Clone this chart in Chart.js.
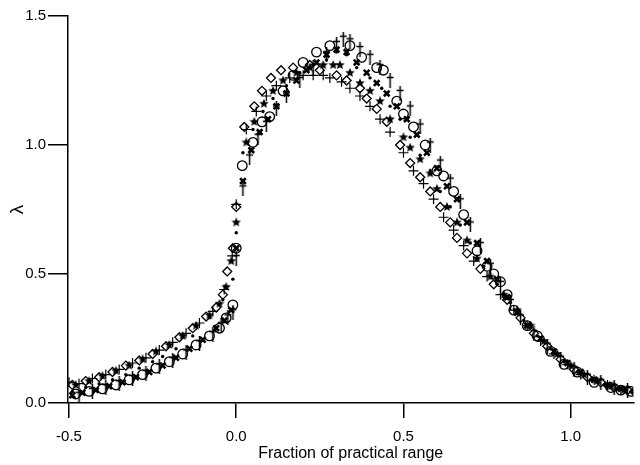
<!DOCTYPE html>
<html>
<head>
<meta charset="utf-8">
<script src="https://cdn.jsdelivr.net/npm/chart.js@4.4.1/dist/chart.umd.min.js"></script>
<style>
  html, body { margin: 0; padding: 0; background: #fff; }
</style>
</head>
<body>
<canvas id="g1" width="640" height="465"></canvas>
<script>
// tick labels
var xTicks = [-0.5, 0.0, 0.5, 1.0];
var yTicks = [0.0, 0.5, 1.0, 1.5];

// diamonds (left curve)
var diamondX = [-0.49,-0.45,-0.41,-0.37,-0.33, -0.29,-0.25,-0.21,-0.17,-0.13, -0.09,-0.06,-0.04,-0.027,-0.01, 0.0,0.024,0.054,0.077,0.104, 0.134,0.17,0.22,0.25,0.30, 0.33,0.37,0.39,0.42,0.45, 0.49,0.52,0.55,0.58,0.61, 0.64,0.66,0.69,0.73,0.77, 0.81,0.85,0.89,0.93,0.97, 1.01,1.05,1.09,1.13,1.17];
var diamondY = [0.07,0.085,0.10,0.12,0.145, 0.165,0.19,0.22,0.255,0.29, 0.335,0.37,0.42,0.51,0.60, 0.76,1.07,1.15,1.21,1.26, 1.29,1.30,1.31,1.29,1.27, 1.25,1.22,1.18,1.14,1.09, 1.00,0.93,0.875,0.82,0.76, 0.70,0.64,0.58,0.52,0.46, 0.40,0.33,0.27,0.22,0.17, 0.13,0.10,0.08,0.06,0.05];

// plus signs (left curve)
var plusX = [-0.50,-0.47,-0.43,-0.39,-0.35, -0.31,-0.27,-0.23,-0.19,-0.15, -0.11,-0.07,-0.036,-0.012,0.0, 0.03,0.06,0.09,0.12,0.16, 0.20,0.23,0.26,0.28,0.315, 0.34,0.37,0.40,0.43,0.46, 0.50,0.53,0.56,0.59,0.62, 0.65,0.68,0.71,0.75,0.79, 0.83,0.87,0.91,0.95,0.99, 1.03,1.07,1.11,1.15,1.19];
var plusY = [0.08,0.075,0.095,0.11,0.13, 0.155,0.175,0.205,0.235,0.27, 0.31,0.355,0.44,0.57,0.77, 1.06,1.13,1.19,1.23,1.26, 1.27,1.27,1.27,1.26,1.245, 1.22,1.19,1.15,1.10,1.05, 0.97,0.90,0.85,0.79,0.72, 0.67,0.61,0.55,0.49,0.42, 0.36,0.30,0.24,0.19,0.15, 0.11,0.09,0.07,0.05,0.04];

// stars (middle)
var starX = [-0.48,-0.44,-0.40,-0.36,-0.32, -0.28,-0.24,-0.20,-0.16,-0.12, -0.08,-0.05,-0.03,-0.015,0.0, 0.03,0.054,0.083,0.11,0.14, 0.18,0.22,0.26,0.29,0.31, 0.34,0.37,0.40,0.43,0.46, 0.50,0.52,0.55,0.58,0.60, 0.63,0.66,0.69,0.72,0.76, 0.80,0.84,0.88,0.92,0.96, 1.00,1.04,1.08,1.12,1.16];
var starY = [0.07,0.085,0.105,0.125,0.145, 0.17,0.20,0.225,0.26,0.30, 0.34,0.385,0.45,0.55,0.70, 1.01,1.09,1.16,1.21,1.25, 1.28,1.30,1.31,1.31,1.31, 1.28,1.24,1.21,1.17,1.10, 1.03,0.99,0.945,0.89,0.83, 0.76,0.70,0.63,0.56,0.49, 0.42,0.36,0.30,0.24,0.19, 0.145,0.11,0.085,0.065,0.05];

// small dots (middle)
var dotX = [-0.49,-0.45,-0.41,-0.37,-0.33, -0.29,-0.25,-0.22,-0.18,-0.13, -0.08,-0.04,-0.01,0.0,0.02, 0.05,0.08,0.11,0.15,0.19, 0.23,0.27,0.30,0.33,0.36, 0.40,0.435,0.46,0.49,0.52, 0.55,0.58,0.61,0.64,0.67, 0.70,0.74,0.78,0.82,0.86, 0.90,0.94,0.98,1.02,1.06, 1.10,1.14,1.18];
var dotY = [0.045,0.06,0.075,0.09,0.11, 0.135,0.16,0.18,0.21,0.26, 0.33,0.40,0.48,0.66,0.97, 1.06,1.13,1.18,1.23,1.28, 1.31,1.33,1.36,1.35,1.30, 1.26,1.22,1.15,1.10,1.03, 0.96,0.90,0.82,0.76,0.69, 0.62,0.53,0.46,0.39,0.32, 0.26,0.21,0.16,0.12,0.09, 0.07,0.055,0.045];

// open circles (right curve)
var circleX = [-0.48,-0.44,-0.40,-0.36,-0.32, -0.28,-0.24,-0.20,-0.16,-0.12, -0.08,-0.05,-0.03,-0.01,0.0, 0.018,0.05,0.077,0.10,0.14, 0.17,0.20,0.24,0.28,0.34, 0.375,0.42,0.44,0.48,0.50, 0.53,0.565,0.60,0.62,0.65, 0.68,0.72,0.75,0.77,0.79, 0.81,0.83,0.87,0.90,0.94, 0.98,1.02,1.07,1.12,1.15, 1.18];
var circleY = [0.035,0.045,0.055,0.07,0.09, 0.11,0.135,0.16,0.19,0.225, 0.26,0.29,0.33,0.38,0.60, 0.92,1.01,1.09,1.11,1.21, 1.27,1.32,1.36,1.385,1.385, 1.34,1.30,1.29,1.17,1.12, 1.07,1.00,0.90,0.88,0.82, 0.73,0.59,0.53,0.50,0.47, 0.42,0.36,0.30,0.26,0.20, 0.15,0.12,0.08,0.06,0.05, 0.045];

// bold crosses (right curve)
var crossX = [-0.49,-0.46,-0.42,-0.38,-0.34, -0.30,-0.26,-0.22,-0.18,-0.14, -0.10,-0.06,-0.035,-0.015,0.0, 0.02,0.045,0.07,0.095,0.12, 0.15,0.18,0.21,0.24,0.27, 0.30,0.33,0.36,0.39,0.42, 0.45,0.48,0.51,0.54,0.57, 0.60,0.63,0.66,0.69,0.72, 0.75,0.78,0.81,0.84,0.87, 0.91,0.95,0.99,1.03,1.07, 1.11,1.15,1.19];
var crossY = [0.03,0.04,0.05,0.065,0.08, 0.10,0.12,0.145,0.175,0.21, 0.245,0.29,0.32,0.36,0.60, 0.86,0.98,1.05,1.10,1.15, 1.20,1.25,1.29,1.32,1.35, 1.37,1.36,1.32,1.28,1.24, 1.20,1.15,1.10,1.04,0.97, 0.91,0.84,0.79,0.70,0.62, 0.55,0.48,0.41,0.35,0.30, 0.25,0.20,0.155,0.12,0.09, 0.07,0.055,0.045];

// daggers (right curve)
var daggerX = [-0.47,-0.43,-0.39,-0.35,-0.31, -0.27,-0.23,-0.19,-0.15,-0.11, -0.07,-0.045,-0.025,-0.01,0.0, 0.02,0.04,0.065,0.09,0.12, 0.15,0.19,0.23,0.27,0.30, 0.32,0.34,0.37,0.40,0.43, 0.46,0.49,0.52,0.55,0.58, 0.61,0.64,0.67,0.70,0.73, 0.76,0.79,0.82,0.85,0.89, 0.93,0.97,1.01,1.05,1.09, 1.13,1.17];
var daggerY = [0.03,0.045,0.06,0.075,0.095, 0.115,0.14,0.165,0.195,0.23, 0.265,0.30,0.33,0.35,0.56, 0.83,0.95,1.03,1.08,1.14, 1.19,1.25,1.30,1.35,1.39, 1.41,1.40,1.37,1.34,1.30, 1.25,1.20,1.14,1.07,1.00, 0.93,0.86,0.78,0.69,0.61, 0.53,0.46,0.39,0.33,0.27, 0.22,0.17,0.13,0.10,0.08, 0.06,0.05];

function pts(xs, ys) {
  return xs.map(function (x, i) { return { x: x, y: ys[i] }; });
}

function makeStar(size) {
  var c = document.createElement('canvas');
  c.width = size; c.height = size;
  var g = c.getContext('2d');
  var cx = size / 2, cy = size / 2, ro = size / 2, ri = ro * 0.45;
  g.beginPath();
  for (var i = 0; i < 10; i++) {
    var r = (i % 2) ? ri : ro;
    var a = -Math.PI / 2 + i * Math.PI / 5;
    g.lineTo(cx + r * Math.cos(a), cy + r * Math.sin(a));
  }
  g.closePath();
  g.fillStyle = '#000';
  g.fill();
  return c;
}

function makeDagger() {
  var c = document.createElement('canvas');
  c.width = 9; c.height = 15;
  var g = c.getContext('2d');
  g.strokeStyle = '#000';
  g.lineWidth = 1.5;
  g.beginPath();
  g.moveTo(4.5, 0); g.lineTo(4.5, 15);
  g.moveTo(1, 4.5); g.lineTo(8, 4.5);
  g.stroke();
  return c;
}

var font = 'Liberation Sans, Arial, sans-serif';

var ctx = document.getElementById('g1').getContext('2d');
var myChart = new Chart(ctx, {
  type: 'scatter',
  data: {
    datasets: [
      { data: pts(dotX, dotY), pointStyle: 'circle', pointRadius: 1.7, backgroundColor: '#000', borderColor: '#000', borderWidth: 0 },
      { data: pts(starX, starY), pointStyle: makeStar(10), pointRadius: 5 },
      { data: pts(crossX, crossY), pointStyle: 'crossRot', pointRadius: 4, borderColor: '#000', borderWidth: 2.6 },
      { data: pts(daggerX, daggerY), pointStyle: makeDagger(), pointRadius: 5 },
      { data: pts(circleX, circleY), pointStyle: 'circle', pointRadius: 4.8, backgroundColor: 'rgba(0,0,0,0)', borderColor: '#000', borderWidth: 1.3 },
      { data: pts(plusX, plusY), pointStyle: 'cross', pointRadius: 5, borderColor: '#000', borderWidth: 1.2 },
      { data: pts(diamondX, diamondY), pointStyle: 'rectRot', pointRadius: 4.5, backgroundColor: 'rgba(0,0,0,0)', borderColor: '#000', borderWidth: 1.3 }
    ]
  },
  options: {
    responsive: false,
    animation: false,
    devicePixelRatio: 1,
    layout: { padding: { top: 16, right: 0, bottom: 2, left: 0 } },
    plugins: { legend: { display: false }, tooltip: { enabled: false } },
    scales: {
      x: {
        type: 'linear',
        // the plot area ends a few px short of the canvas, so stretch the range to match
        min: -0.503,
        max: 1.1875,
        afterBuildTicks: function (s) { s.ticks = xTicks.map(function (v) { return { value: v }; }); },
        afterFit: function (s) { s.height = 60; s.paddingLeft = 0; s.paddingRight = 0; },
        border: { color: '#000', width: 1.5 },
        grid: { drawOnChartArea: false, color: '#000', lineWidth: 1.5, tickLength: 15 },
        ticks: { color: '#000', font: { family: font, size: 15 }, padding: 10, maxRotation: 0,
          callback: function (v) { return v.toFixed(1); } },
        title: { display: true, text: 'Fraction of practical range', color: '#000',
          font: { family: font, size: 16 }, padding: { top: 0, bottom: 0 } }
      },
      y: {
        type: 'linear',
        min: 0,
        max: 1.5,
        afterBuildTicks: function (s) { s.ticks = yTicks.map(function (v) { return { value: v }; }); },
        afterFit: function (s) { s.width = 68; s.paddingTop = 0; s.paddingBottom = 0; },
        border: { color: '#000', width: 1.5 },
        grid: { drawOnChartArea: false, color: '#000', lineWidth: 1.5, tickLength: 20 },
        ticks: { color: '#000', font: { family: font, size: 15 }, padding: 2,
          callback: function (v) { return v.toFixed(1); } },
        title: { display: true, text: 'λ', color: '#000',
          font: { family: font, size: 19 }, padding: { top: 6, bottom: 0 } }
      }
    }
  }
});
</script>
</body>
</html>
